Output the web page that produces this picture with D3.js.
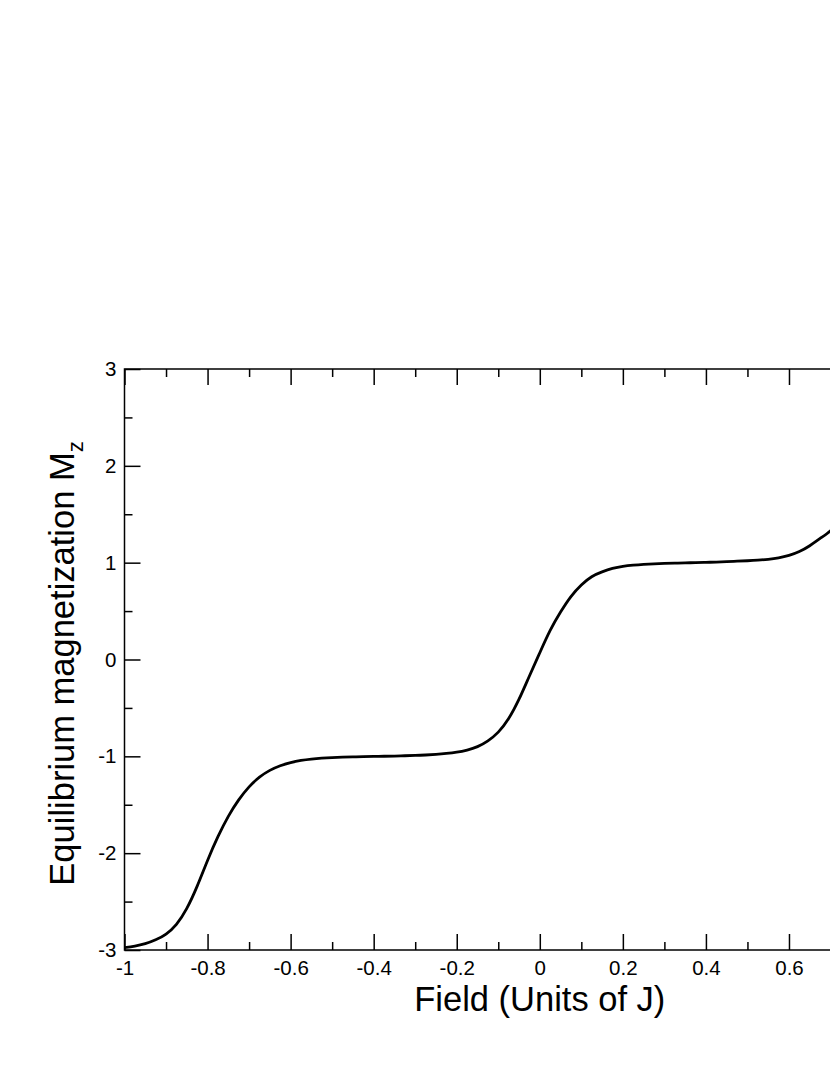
<!DOCTYPE html>
<html>
<head>
<meta charset="utf-8">
<script src="https://cdn.jsdelivr.net/npm/d3@7"></script>
<style>
  html, body { margin: 0; padding: 0; background: #fff; overflow: hidden; }
  svg { display: block; }
  text { font-family: "Liberation Sans", Arial, Helvetica, sans-serif; fill: #000; }
</style>
</head>
<body>
<svg id="chart" width="830" height="1075"></svg>
<script>
// ---- data ----
const fieldValues = [
  -1.000, -0.975, -0.950, -0.925, -0.900, -0.875, -0.850, -0.825, -0.800, -0.775,
  -0.750, -0.725, -0.700, -0.675, -0.650, -0.625, -0.600, -0.575, -0.550, -0.525,
  -0.500, -0.475, -0.450, -0.425, -0.400, -0.375, -0.350, -0.325, -0.300, -0.275,
  -0.250, -0.225, -0.200, -0.175, -0.150, -0.125, -0.100, -0.075, -0.050, -0.025,
   0.000,  0.025,  0.050,  0.075,  0.100,  0.125,  0.150,  0.175,  0.200,  0.225,
   0.250,  0.275,  0.300,  0.325,  0.350,  0.375,  0.400,  0.425,  0.450,  0.475,
   0.500,  0.525,  0.550,  0.575,  0.600,  0.625,  0.650,  0.675,  0.700,  0.725,
   0.750,  0.775,  0.800,  0.825,  0.850,  0.875,  0.900,  0.925,  0.950,  0.975,
   1.000
];
const magnetization = [
  -2.975, -2.960, -2.935, -2.895, -2.835, -2.735, -2.570, -2.340, -2.075, -1.830,
  -1.620, -1.450, -1.315, -1.215, -1.145, -1.097, -1.064, -1.042, -1.028, -1.019,
  -1.013, -1.009, -1.006, -1.003, -1.001, -0.999, -0.997, -0.994, -0.991, -0.986,
  -0.979, -0.970, -0.957, -0.935, -0.900, -0.840, -0.750, -0.610, -0.410, -0.170,
   0.070,  0.300,  0.490,  0.650,  0.770,  0.855,  0.905,  0.940,  0.962,  0.974,
   0.982,  0.988,  0.992,  0.995,  0.998,  1.000,  1.003,  1.006,  1.010,  1.015,
   1.020,  1.026,  1.035,  1.050,  1.075,  1.115,  1.175,  1.250,  1.330,  1.440,
   1.600,  1.820,  2.070,  2.330,  2.570,  2.735,  2.835,  2.895,  2.935,  2.960,
   2.975
];
const xMajorTicks = [-1, -0.8, -0.6, -0.4, -0.2, 0, 0.2, 0.4, 0.6];
const xTickLabels = ["-1", "-0.8", "-0.6", "-0.4", "-0.2", "0", "0.2", "0.4", "0.6"];
const xMinorTicks = [-0.9, -0.7, -0.5, -0.3, -0.1, 0.1, 0.3, 0.5, 0.7];
const yMajorTicks = [-3, -2, -1, 0, 1, 2, 3];
const yTickLabels = ["-3", "-2", "-1", "0", "1", "2", "3"];
const yMinorTicks = [-2.5, -1.5, -0.5, 0.5, 1.5, 2.5];
const xTitle = "Field (Units of J)";
const yTitle = "Equilibrium magnetization M";
const yTitleSub = "z";

// ---- layout ----
const plotLeft = 124.5, plotTop = 369, plotRight = 955.1, plotBottom = 950;
const svg = d3.select("#chart");

const x = d3.scaleLinear().domain([-1, 1]).range([plotLeft, plotRight]);
const y = d3.scaleLinear().domain([-3, 3]).range([plotBottom, plotTop]);

svg.append("defs").append("clipPath").attr("id", "plotclip")
  .append("rect").attr("x", plotLeft).attr("y", plotTop)
  .attr("width", plotRight - plotLeft).attr("height", plotBottom - plotTop);

const axisStyle = g => {
  g.attr("font-size", null).attr("font-family", null);
  g.select(".domain").remove();
  g.selectAll(".tick line").attr("stroke", "#000").attr("stroke-width", 1.5);
  g.selectAll(".tick text")
    .style("font-family", "'Liberation Sans', Arial, Helvetica, sans-serif")
    .style("font-size", "20.5px").attr("fill", "#000");
};

// bottom axis (major + labels)
svg.append("g").attr("transform", `translate(0,${plotBottom})`)
  .call(d3.axisBottom(x).tickValues(xMajorTicks).tickSize(-16).tickSizeOuter(0)
    .tickPadding(10.5).tickFormat((d, i) => xTickLabels[i]))
  .call(axisStyle);
svg.append("g").attr("transform", `translate(0,${plotBottom})`)
  .call(d3.axisBottom(x).tickValues(xMinorTicks).tickSize(-8).tickSizeOuter(0).tickFormat(""))
  .call(axisStyle);
// top axis (mirror ticks)
svg.append("g").attr("transform", `translate(0,${plotTop})`)
  .call(d3.axisTop(x).tickValues(xMajorTicks).tickSize(-16).tickSizeOuter(0).tickFormat(""))
  .call(axisStyle);
svg.append("g").attr("transform", `translate(0,${plotTop})`)
  .call(d3.axisTop(x).tickValues(xMinorTicks).tickSize(-8).tickSizeOuter(0).tickFormat(""))
  .call(axisStyle);
// left axis
svg.append("g").attr("transform", `translate(${plotLeft},0)`)
  .call(d3.axisLeft(y).tickValues(yMajorTicks).tickSize(-16).tickSizeOuter(0)
    .tickPadding(8).tickFormat((d, i) => yTickLabels[i]))
  .call(axisStyle);
svg.append("g").attr("transform", `translate(${plotLeft},0)`)
  .call(d3.axisLeft(y).tickValues(yMinorTicks).tickSize(-8).tickSizeOuter(0).tickFormat(""))
  .call(axisStyle);

// frame
svg.append("rect").attr("x", plotLeft).attr("y", plotTop)
  .attr("width", plotRight - plotLeft).attr("height", plotBottom - plotTop)
  .attr("fill", "none").attr("stroke", "#000").attr("stroke-width", 1.5);

// curve
const pts = fieldValues.map((f, i) => [f, magnetization[i]]);
svg.append("path").datum(pts)
  .attr("clip-path", "url(#plotclip)")
  .attr("fill", "none").attr("stroke", "#000").attr("stroke-width", 2.8)
  .attr("stroke-linejoin", "round")
  .attr("d", d3.line().x(d => x(d[0])).y(d => y(d[1])).curve(d3.curveNatural));

// titles
svg.append("text")
  .attr("x", x(0)).attr("y", 1011)
  .attr("text-anchor", "middle").style("font-size", "34.5px")
  .text(xTitle);

const yt = svg.append("text")
  .attr("transform", `translate(74,${y(0) + 4}) rotate(-90)`)
  .attr("text-anchor", "middle").style("font-size", "34.5px");
yt.append("tspan").text(yTitle);
yt.append("tspan").style("font-size", "22px").attr("dy", 9).text(yTitleSub);
</script>
</body>
</html>
